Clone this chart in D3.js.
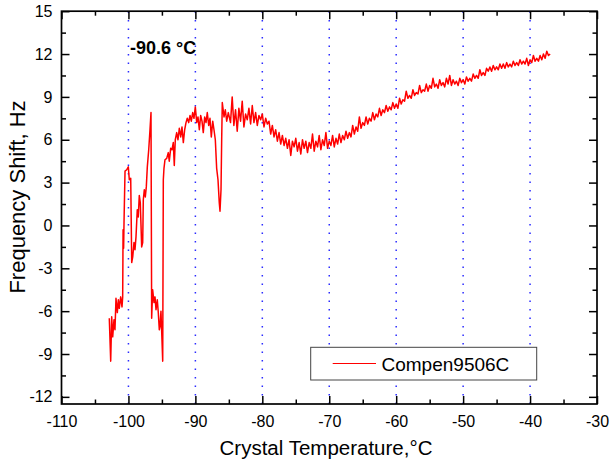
<!DOCTYPE html>
<html><head><meta charset="utf-8">
<script src="https://cdn.jsdelivr.net/npm/d3@7"></script>
<style>
body{margin:0;background:#fff}
text{font-family:"Liberation Sans",Arial,Helvetica,sans-serif;fill:#000}
</style>
</head><body>
<svg id="chart" width="610" height="462"></svg>
<script>
// ---------- data ----------
const xTicks = [-110,-100,-90,-80,-70,-60,-50,-40,-30];
const xTickLabels = ["-110","-100","-90","-80","-70","-60","-50","-40","-30"];
const xMinorTicks = [-105,-95,-85,-75,-65,-55,-45,-35];
const yTicks = [-12,-9,-6,-3,0,3,6,9,12,15];
const yTickLabels = ["-12","-9","-6","-3","0","3","6","9","12","15"];
const yMinorTicks = [-10.5,-7.5,-4.5,-1.5,1.5,4.5,7.5,10.5,13.5];
const gridTemps = [-100,-90,-80,-70,-60,-50,-40];
const seriesName = "Compen9506C";
const annotation = "-90.6 °C";
const xTitle = "Crystal Temperature,°C";
const yTitle = "Frequency Shift, Hz";

// [crystal temperature °C, frequency shift Hz]
const trace = [
[-102.86,-6.5],[-102.65,-9.5],[-102.50,-6.4],[-102.35,-7.8],[-102.16,-6.6],[-102.01,-7.3],
[-101.86,-5.1],[-101.66,-6.1],[-101.51,-5.2],[-101.37,-5.8],[-101.16,-5.0],[-100.96,-5.7],
[-100.86,-5.0],[-100.80,-0.3],[-100.72,-1.6],[-100.66,0.2],[-100.51,3.8],[-100.26,3.9],
[-100.02,4.1],[-99.87,3.2],[-99.66,3.3],[-99.51,-2.6],[-99.36,-2.2],[-99.17,-1.2],
[-99.02,-1.7],[-98.87,-0.8],[-98.68,1.1],[-98.53,0.6],[-98.38,2.1],[-98.23,1.6],
[-98.02,-1.5],[-97.87,-1.2],[-97.78,1.8],[-97.63,2.5],[-97.48,2.0],[-97.33,2.7],
[-97.18,4.1],[-96.97,5.3],[-96.78,6.7],[-96.63,7.9],[-96.53,-6.5],[-96.38,-4.5],
[-96.18,-5.4],[-96.03,-5.0],[-95.88,-5.9],[-95.69,-5.2],[-95.54,-6.1],[-95.39,-7.3],
[-95.29,-7.1],[-95.14,-6.0],[-94.99,-8.0],[-94.88,-9.5],[-94.79,3.2],
[-94.69,4.0],[-94.54,4.6],[-94.28,4.7],[-94.05,5.1],[-93.90,4.5],[-93.69,5.4],[-93.49,5.3],
[-93.30,5.8],[-93.15,4.2],[-93.00,6.0],[-92.79,6.5],[-92.60,6.0],[-92.40,6.8],[-92.19,6.2],
[-92.00,6.9],[-91.80,5.8],[-91.60,6.7],[-91.40,7.2],[-91.21,7.5],[-91.00,7.2],[-90.80,7.7],
[-90.61,7.3],[-90.40,7.9],[-90.21,7.5],[-90.01,8.3],[-89.80,7.2],[-89.61,7.6],[-89.41,6.7],
[-89.21,7.7],[-89.01,7.3],[-88.82,6.5],[-88.61,7.6],[-88.41,7.2],[-88.22,7.9],[-88.01,7.0],
[-87.82,7.5],[-87.62,6.2],[-87.41,7.3],[-87.22,6.7],[-87.02,6.0],[-86.82,4.0],[-86.62,3.2],
[-86.43,1.6],[-86.32,1.0],[-86.17,2.5],[-86.07,6.0],[-85.98,8.6],[-85.72,7.6],[-85.53,8.1],
[-85.32,7.3],[-85.08,7.9],
[-84.75,7.2],[-84.5,9.0],[-84.25,7.0],[-84.0,8.1],[-83.75,6.6],[-83.5,8.2],[-83.25,7.3],
[-83.0,8.7],[-82.75,6.9],[-82.5,7.8],[-82.25,7.4],[-82.0,8.2],[-81.75,7.1],[-81.5,8.4],
[-81.25,7.2],[-81.0,7.9],[-80.75,7.0],[-80.5,7.7],[-80.25,7.4],[-80.0,7.8],[-79.75,6.9],
[-79.5,7.5],[-79.25,7.1],[-79.0,7.3],[-78.75,6.4],[-78.5,7.0],[-78.25,6.2],[-78.0,6.7],
[-77.75,5.9],[-77.5,6.5],[-77.25,5.7],[-77.0,6.3],[-76.75,5.6],[-76.5,6.1],[-76.25,5.4],
[-76.0,6.0],[-75.75,4.9],[-75.5,5.9],[-75.25,5.5],[-75.0,6.1],[-74.75,5.2],[-74.5,5.8],
[-74.25,5.0],[-74.0,6.0],[-73.75,5.4],[-73.5,5.9],[-73.25,5.1],[-73.0,5.8],[-72.75,5.4],
[-72.5,6.4],[-72.25,5.2],[-72.0,5.9],[-71.75,5.5],[-71.5,6.3],[-71.25,5.3],[-71.0,6.0],
[-70.75,5.6],[-70.5,6.5],[-70.25,5.4],[-70.0,5.9],[-69.75,5.6],[-69.5,6.3],[-69.25,5.5],
[-69.0,6.1],[-68.75,5.7],[-68.5,6.4],[-68.25,5.8],[-68.0,6.3],[-67.75,6.0],[-67.5,6.6],
[-67.25,6.1],[-67.0,6.5],[-66.75,6.2],[-66.5,7.0],[-66.25,6.4],[-66.0,6.9],[-65.75,6.6],
[-65.5,7.6],[-65.25,6.8],[-65.0,7.2],[-64.75,7.0],[-64.5,7.6],[-64.25,7.1],[-64.0,7.5],
[-63.75,7.3],[-63.5,7.9],[-63.25,7.4],[-63.0,7.8],[-62.75,7.6],[-62.5,8.2],[-62.25,7.7],
[-62.0,8.1],[-61.75,7.9],[-61.5,8.4],[-61.25,8.0],[-61.0,8.3],[-60.75,8.1],[-60.5,8.6],
[-60.25,8.2],[-60.0,8.5],[-59.75,8.2],[-59.5,8.9],[-59.25,8.5],[-59.0,8.8],[-58.75,8.7],
[-58.5,9.4],[-58.25,8.9],[-58.0,9.1],[-57.75,8.9],[-57.5,9.5],[-57.25,9.1],[-57.0,9.3],
[-56.75,9.2],[-56.5,9.8],[-56.25,9.3],[-56.0,9.5],[-55.75,9.4],[-55.5,9.9],[-55.25,9.4],
[-55.0,9.8],[-54.75,9.6],[-54.5,10.3],[-54.25,9.7],[-54.0,9.9],[-53.75,9.6],[-53.5,10.2],
[-53.25,9.8],[-53.0,10.0],[-52.75,9.7],[-52.5,10.3],[-52.25,9.9],[-52.0,10.5],[-51.75,9.8],
[-51.5,10.2],[-51.25,9.9],[-51.0,10.1],[-50.75,9.8],[-50.5,10.3],[-50.25,10.0],[-50.0,10.2],
[-49.75,9.9],[-49.5,10.4],[-49.25,10.1],[-49.0,10.3],[-48.75,10.1],[-48.5,10.6],[-48.25,10.3],
[-48.0,10.5],[-47.75,10.3],[-47.5,10.9],[-47.25,10.5],[-47.0,10.7],[-46.75,10.5],[-46.5,11.0],
[-46.25,10.8],[-46.0,11.1],[-45.75,10.8],[-45.5,11.2],[-45.25,10.9],[-45.0,11.1],[-44.75,10.9],
[-44.5,11.3],[-44.25,11.0],[-44.0,11.3],[-43.75,11.0],[-43.5,11.4],[-43.25,11.1],[-43.0,11.3],
[-42.75,11.1],[-42.5,11.5],[-42.25,11.2],[-42.0,11.4],[-41.75,11.2],[-41.5,11.6],[-41.25,11.3],
[-41.0,11.5],[-40.75,11.3],[-40.5,11.7],[-40.25,11.2],[-40.0,11.6],[-39.75,11.4],[-39.5,11.9],
[-39.25,11.5],[-39.0,11.7],[-38.75,11.5],[-38.5,11.9],[-38.25,11.6],[-38.0,12.0],[-37.75,11.7],
[-37.5,12.2],[-37.25,11.9],[-37.0,12.0]
];

// ---------- layout ----------
const svg = d3.select("#chart");
const P = {left:61.5, right:597, top:11.2, bottom:404};
const x = d3.scaleLinear().domain([-110,-30]).range([P.left,P.right]);
const y = d3.scaleLinear().domain([-12.5,15]).range([P.bottom,P.top]);

svg.append("rect").attr("width",610).attr("height",462).attr("fill","#fff");

// dotted vertical grid
svg.append("g").selectAll("line").data(gridTemps).join("line")
  .attr("x1",d=>x(d)).attr("x2",d=>x(d))
  .attr("y1",P.bottom).attr("y2",P.top)
  .attr("stroke","#2b2bff").attr("stroke-width",1.5)
  .attr("stroke-dasharray","1.5,7");

// data line
svg.append("path").datum(trace)
  .attr("fill","none").attr("stroke","#ff0000").attr("stroke-width",1.5)
  .attr("stroke-linejoin","round")
  .attr("d", d3.line().x(d=>x(d[0])).y(d=>y(d[1])));

// annotation
svg.append("text").attr("x",130).attr("y",54)
  .style("font-size","18px").style("font-weight","bold").text(annotation);

// legend
const lg = svg.append("g");
lg.append("rect").attr("x",310.7).attr("y",347.3).attr("width",226).attr("height",32.7)
  .attr("fill","#fff").attr("stroke","#444").attr("stroke-width",1);
lg.append("line").attr("x1",332.7).attr("x2",376).attr("y1",363.5).attr("y2",363.5)
  .attr("stroke","#ff0000").attr("stroke-width",1.2);
lg.append("text").attr("x",381.5).attr("y",370.5).style("font-size","19px").text(seriesName);

// axes
function style(g){
  g.select(".domain").remove();
  g.selectAll(".tick line").attr("stroke","#000").attr("stroke-width",1.5);
  g.selectAll(".tick text").style("font-size","16px").attr("fill","#000");
}
svg.append("g").attr("transform",`translate(0,${P.bottom})`)
  .call(d3.axisBottom(x).tickValues(xTicks).tickSize(-8).tickPadding(12)
    .tickFormat((d,i)=>xTickLabels[i])).call(style);
svg.append("g").attr("transform",`translate(0,${P.bottom})`)
  .call(d3.axisBottom(x).tickValues(xMinorTicks).tickSize(-4.5).tickFormat("")).call(style);
svg.append("g").attr("transform",`translate(0,${P.top})`)
  .call(d3.axisTop(x).tickValues(xTicks).tickSize(-8).tickFormat("")).call(style);
svg.append("g").attr("transform",`translate(0,${P.top})`)
  .call(d3.axisTop(x).tickValues(xMinorTicks).tickSize(-4.5).tickFormat("")).call(style);
svg.append("g").attr("transform",`translate(${P.left},0)`)
  .call(d3.axisLeft(y).tickValues(yTicks).tickSize(-8).tickPadding(9)
    .tickFormat((d,i)=>yTickLabels[i])).call(style);
svg.append("g").attr("transform",`translate(${P.left},0)`)
  .call(d3.axisLeft(y).tickValues(yMinorTicks).tickSize(-4.5).tickFormat("")).call(style);
svg.append("g").attr("transform",`translate(${P.right},0)`)
  .call(d3.axisRight(y).tickValues(yTicks).tickSize(-8).tickFormat("")).call(style);
svg.append("g").attr("transform",`translate(${P.right},0)`)
  .call(d3.axisRight(y).tickValues(yMinorTicks).tickSize(-4.5).tickFormat("")).call(style);

// frame
svg.append("rect").attr("x",P.left).attr("y",P.top)
  .attr("width",P.right-P.left).attr("height",P.bottom-P.top)
  .attr("fill","none").attr("stroke","#000").attr("stroke-width",1.7);

// titles
svg.append("text").attr("x",326).attr("y",455).attr("text-anchor","middle")
  .style("font-size","20.5px").text(xTitle);
svg.append("text").attr("transform","translate(25,197) rotate(-90)").attr("text-anchor","middle")
  .style("font-size","22px").text(yTitle);
</script>
</body></html>
